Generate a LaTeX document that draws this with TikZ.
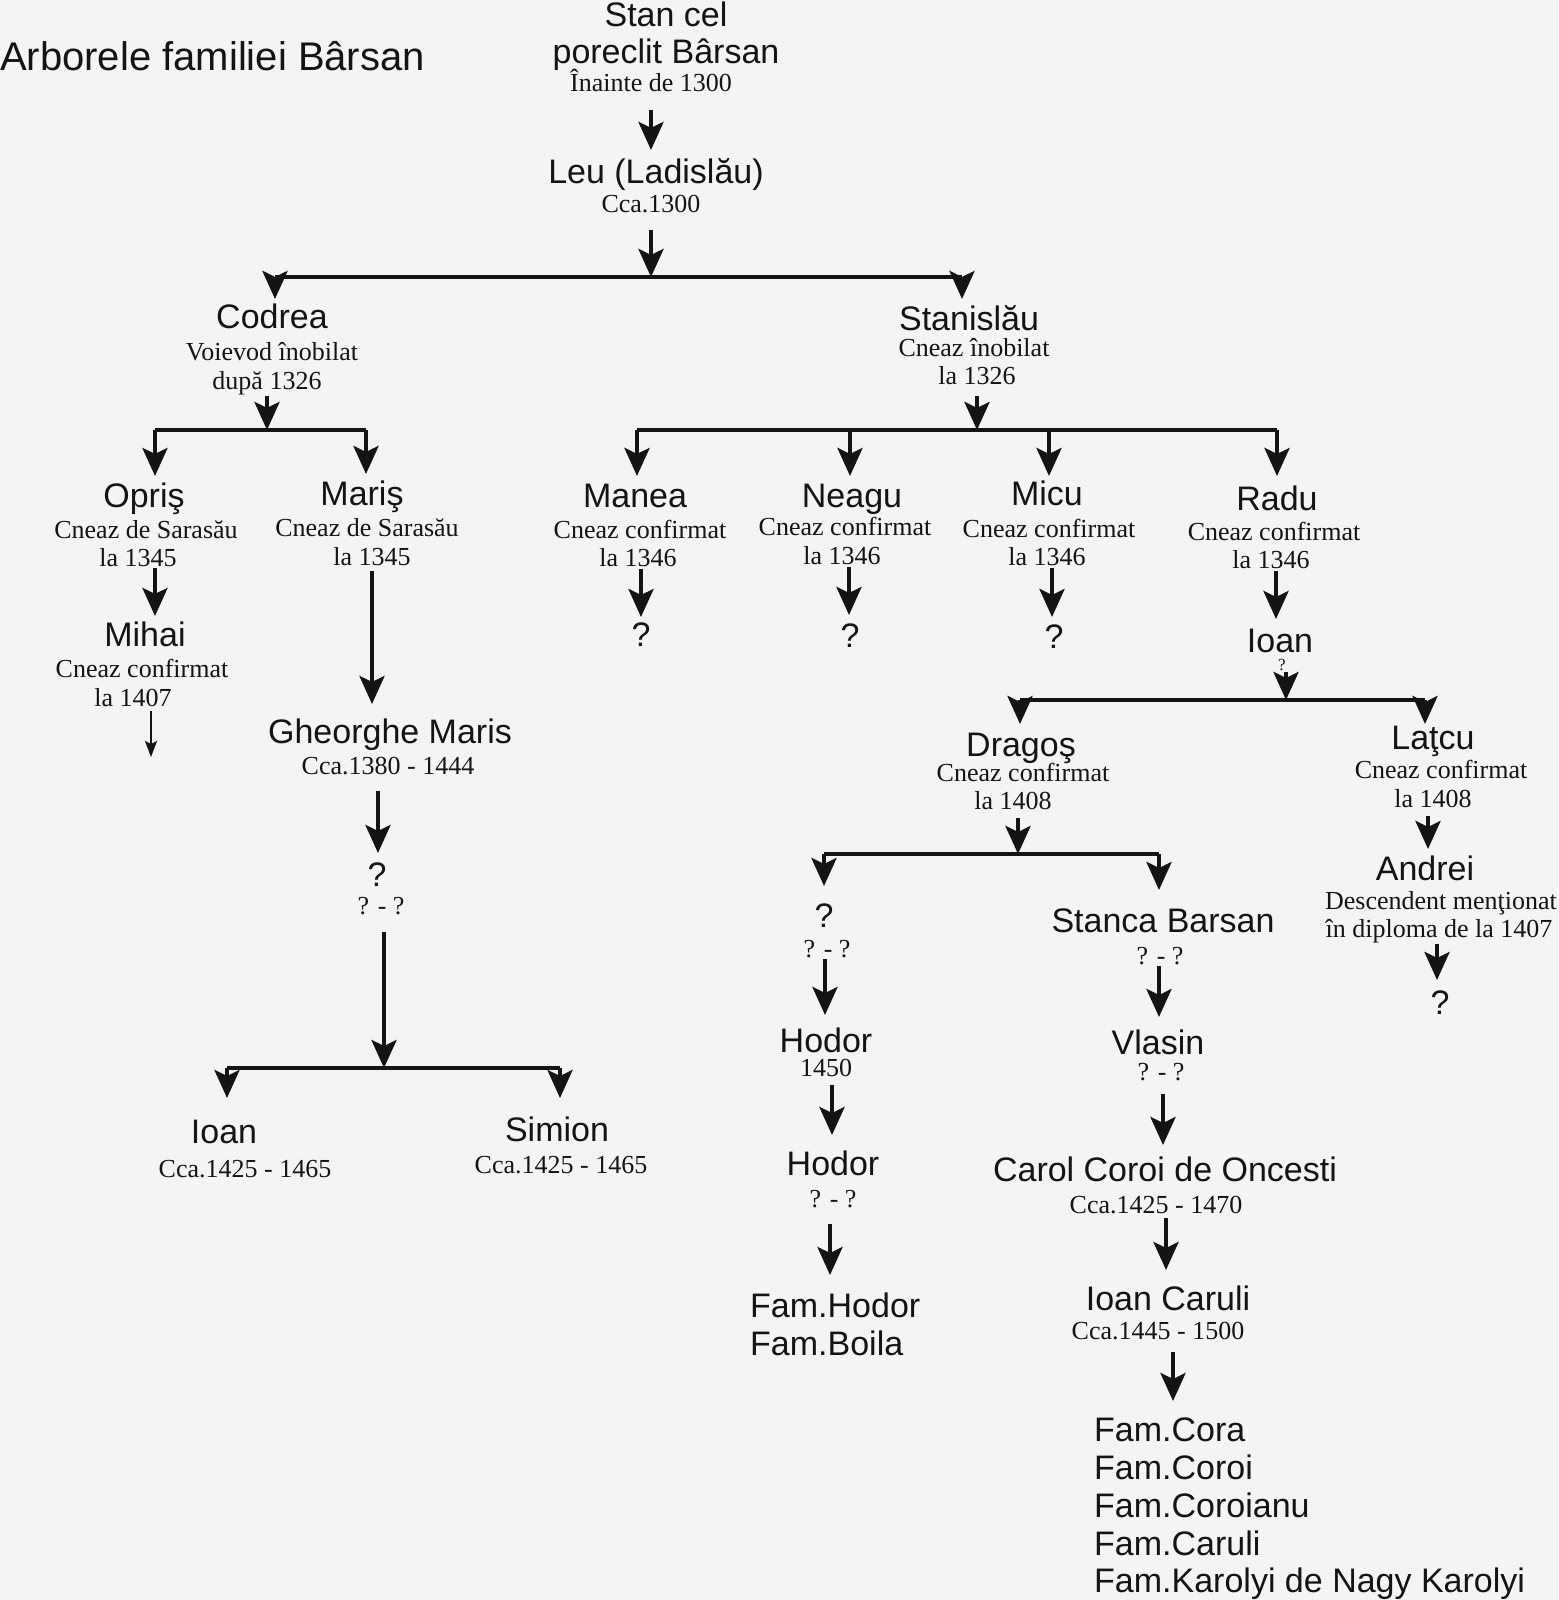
\documentclass[tikz,border=0pt]{standalone}
\usepackage{fontspec}
\setmainfont{Liberation Serif}
\newfontfamily\sansf{Liberation Sans}
\usetikzlibrary{arrows.meta}
\definecolor{bgc}{HTML}{F4F4F4}
\definecolor{ink}{HTML}{141414}
\begin{document}
\begin{tikzpicture}[x=1pt,y=-1pt,
 nm/.style={font=\sansf\fontsize{34}{40}\selectfont, inner sep=0pt, text height=24.3pt, text depth=0pt, text=ink},
 ttl/.style={font=\sansf\fontsize{40}{46}\selectfont, inner sep=0pt, text height=28.6pt, text depth=0pt, anchor=west, text=ink},
 inf/.style={font=\fontsize{26}{30}\selectfont, inner sep=0pt, text height=17.2pt, text depth=0pt, text=ink},
 fam/.style={nm, anchor=west},
 arr/.style={line width=4.5pt, draw=ink, -{Stealth[length=28pt,width=25pt,inset=6pt]}},
 bar/.style={line width=4.5pt, draw=ink},
 thinarr/.style={line width=1.8pt, draw=ink, -{Stealth[length=16pt,width=12pt,inset=3pt]}}]
\fill[bgc] (0,0) rectangle (1558,1600);
\useasboundingbox (0,0) rectangle (1558,1600);

% ---------- texts ----------
\node[ttl] (title) at (0,56) {Arborele familiei Bârsan};
\node[nm] (stanA) at (666,14) {Stan cel};
\node[nm] (stanB) at (666,51) {poreclit Bârsan};
\node[inf] (stanC) at (651,83) {Înainte de 1300};
\node[nm] (leuA) at (656,171) {Leu (Ladislău)};
\node[inf] (leuB) at (651,204) {Cca.1300};

\node[nm] (codA) at (272,316) {Codrea};
\node[inf] (codB) at (272,352) {Voievod înobilat};
\node[inf] (codC) at (267,381) {după 1326};

\node[nm] (staA) at (969,318) {Stanislău};
\node[inf] (staB) at (974,348) {Cneaz înobilat};
\node[inf] (staC) at (977,376) {la 1326};

\node[nm] (oprA) at (144,495) {Opriş};
\node[inf] (oprB) at (146,530) {Cneaz de Sarasău};
\node[inf] (oprC) at (138,558) {la 1345};

\node[nm] (marA) at (362,493) {Mariş};
\node[inf] (marB) at (367,528) {Cneaz de Sarasău};
\node[inf] (marC) at (372,557) {la 1345};

\node[nm] (mihA) at (145,634) {Mihai};
\node[inf] (mihB) at (142,669) {Cneaz confirmat};
\node[inf] (mihC) at (133,698) {la 1407};

\node[nm] (gheA) at (390,731) {Gheorghe Maris};
\node[inf] (gheB) at (388,766) {Cca.1380 - 1444};

\node[nm] (qgA) at (377,874) {?};
\node[inf] (qgB) at (381,906) {? - ?};

\node[nm] (ioaA) at (224,1131) {Ioan};
\node[inf] (ioaB) at (245,1169) {Cca.1425 - 1465};
\node[nm] (simA) at (557,1129) {Simion};
\node[inf] (simB) at (561,1165) {Cca.1425 - 1465};

\node[nm] (manA) at (635,495) {Manea};
\node[inf] (manB) at (640,530) {Cneaz confirmat};
\node[inf] (manC) at (638,558) {la 1346};
\node[nm] (manQ) at (641,634) {?};

\node[nm] (neaA) at (852,495) {Neagu};
\node[inf] (neaB) at (845,527) {Cneaz confirmat};
\node[inf] (neaC) at (842,556) {la 1346};
\node[nm] (neaQ) at (850,635) {?};

\node[nm] (micA) at (1047,493) {Micu};
\node[inf] (micB) at (1049,529) {Cneaz confirmat};
\node[inf] (micC) at (1047,557) {la 1346};
\node[nm] (micQ) at (1054,636) {?};

\node[nm] (radA) at (1277,498) {Radu};
\node[inf] (radB) at (1274,532) {Cneaz confirmat};
\node[inf] (radC) at (1271,560) {la 1346};

\node[nm] (irA) at (1280,640) {Ioan};
\node[inf, font=\fontsize{17}{19}\selectfont, text height=11pt] (irB) at (1282,665) {?};

\node[nm] (draA) at (1021,744) {Dragoş};
\node[inf] (draB) at (1023,773) {Cneaz confirmat};
\node[inf] (draC) at (1013,801) {la 1408};

\node[nm] (latA) at (1433,737) {Laţcu};
\node[inf] (latB) at (1441,770) {Cneaz confirmat};
\node[inf] (latC) at (1433,799) {la 1408};

\node[nm] (andA) at (1425,868) {Andrei};
\node[inf] (andB) at (1441,901) {Descendent menţionat};
\node[inf] (andC) at (1439,929) {în diploma de la 1407};
\node[nm] (andQ) at (1440,1002) {?};

\node[nm] (qdA) at (824,915) {?};
\node[inf] (qdB) at (827,949) {? - ?};
\node[nm] (hoA) at (826,1040) {Hodor};
\node[inf] (hoB) at (826,1068) {1450};
\node[nm] (hbA) at (833,1163) {Hodor};
\node[inf] (hbB) at (833,1199) {? - ?};
\node[fam] (famH) at (750,1305) {Fam.Hodor};
\node[fam] (famB) at (750,1343) {Fam.Boila};

\node[nm] (scA) at (1163,920) {Stanca Barsan};
\node[inf] (scB) at (1160,956) {? - ?};
\node[nm] (vlA) at (1158,1042) {Vlasin};
\node[inf] (vlB) at (1161,1072) {? - ?};
\node[nm] (ccA) at (1165,1169) {Carol Coroi de Oncesti};
\node[inf] (ccB) at (1156,1205) {Cca.1425 - 1470};
\node[nm] (icA) at (1168,1298) {Ioan Caruli};
\node[inf] (icB) at (1158,1331) {Cca.1445 - 1500};
\node[fam] (f1) at (1094,1429) {Fam.Cora};
\node[fam] (f2) at (1094,1467) {Fam.Coroi};
\node[fam] (f3) at (1094,1505) {Fam.Coroianu};
\node[fam] (f4) at (1094,1543) {Fam.Caruli};
\node[fam] (f5) at (1094,1580) {Fam.Karolyi de Nagy Karolyi};

% ---------- connector points ----------
\coordinate (s1) at (651,110);  \coordinate (e1) at (651,150);
\coordinate (s2) at (651,230);  \coordinate (j1) at (651,277);
\coordinate (b1l) at (275,277); \coordinate (b1r) at (962,277);
\coordinate (t1l) at (275,299); \coordinate (t1r) at (962,299);

\coordinate (s3) at (267,396);  \coordinate (j2) at (267,430);
\coordinate (b2l) at (155,430); \coordinate (b2r) at (366,430);
\coordinate (t2l) at (155,476); \coordinate (t2r) at (366,474);
\coordinate (s4) at (155,568);  \coordinate (e4) at (155,616);
\coordinate (s5) at (151,711);  \coordinate (e5) at (151,757);
\coordinate (s6) at (372,571);  \coordinate (e6) at (372,704);
\coordinate (s7) at (378,791);  \coordinate (e7) at (378,853);
\coordinate (s8) at (384,932);  \coordinate (j3) at (384,1068);
\coordinate (b3l) at (227,1068); \coordinate (b3r) at (560,1068);
\coordinate (t3l) at (227,1098); \coordinate (t3r) at (560,1098);

\coordinate (s9) at (977,396);  \coordinate (j4) at (977,430);
\coordinate (b4a) at (637,430); \coordinate (b4d) at (1277,430);
\coordinate (b4b) at (850,430); \coordinate (b4c) at (1049,430);
\coordinate (t4a) at (637,476); \coordinate (t4b) at (850,476);
\coordinate (t4c) at (1049,476); \coordinate (t4d) at (1277,476);
\coordinate (s10) at (641,569); \coordinate (e10) at (641,617);
\coordinate (s11) at (849,567); \coordinate (e11) at (849,615);
\coordinate (s12) at (1052,568); \coordinate (e12) at (1052,617);
\coordinate (s13) at (1276,571); \coordinate (e13) at (1276,619);
\coordinate (s14) at (1286,672); \coordinate (j5) at (1286,700);
\coordinate (b5l) at (1020,700); \coordinate (b5r) at (1425,700);
\coordinate (t5l) at (1020,724); \coordinate (t5r) at (1425,724);
\coordinate (s15) at (1018,818); \coordinate (j6) at (1018,854);
\coordinate (b6l) at (824,854); \coordinate (b6r) at (1159,854);
\coordinate (t6l) at (824,886); \coordinate (t6r) at (1159,890);
\coordinate (s16) at (1428,816); \coordinate (e16) at (1428,849);
\coordinate (s17) at (1437,944); \coordinate (e17) at (1437,980);
\coordinate (s18) at (825,959); \coordinate (e18) at (825,1015);
\coordinate (s19) at (832,1085); \coordinate (e19) at (832,1135);
\coordinate (s20) at (830,1224); \coordinate (e20) at (830,1275);
\coordinate (s21) at (1159,966); \coordinate (e21) at (1159,1017);
\coordinate (s22) at (1163,1094); \coordinate (e22) at (1163,1145);
\coordinate (s23) at (1166,1218); \coordinate (e23) at (1166,1270);
\coordinate (s24) at (1173,1352); \coordinate (e24) at (1173,1401);

% ---------- connectors ----------
\draw[arr] (s1) -- (e1);
\draw[arr] (s2) -- (j1);
\draw[bar] (b1l) -- (b1r);
\draw[arr] (b1l) -- (t1l);
\draw[arr] (b1r) -- (t1r);

\draw[arr] (s3) -- (j2);
\draw[bar] (b2l) -- (b2r);
\draw[arr] (b2l) -- (t2l);
\draw[arr] (b2r) -- (t2r);
\draw[arr] (s4) -- (e4);
\draw[thinarr] (s5) -- (e5);
\draw[arr] (s6) -- (e6);
\draw[arr] (s7) -- (e7);
\draw[arr] (s8) -- (j3);
\draw[bar] (b3l) -- (b3r);
\draw[arr] (b3l) -- (t3l);
\draw[arr] (b3r) -- (t3r);

\draw[arr] (s9) -- (j4);
\draw[bar] (b4a) -- (b4d);
\draw[arr] (b4a) -- (t4a);
\draw[arr] (b4b) -- (t4b);
\draw[arr] (b4c) -- (t4c);
\draw[arr] (b4d) -- (t4d);
\draw[arr] (s10) -- (e10);
\draw[arr] (s11) -- (e11);
\draw[arr] (s12) -- (e12);
\draw[arr] (s13) -- (e13);
\draw[arr] (s14) -- (j5);
\draw[bar] (b5l) -- (b5r);
\draw[arr] (b5l) -- (t5l);
\draw[arr] (b5r) -- (t5r);
\draw[arr] (s15) -- (j6);
\draw[bar] (b6l) -- (b6r);
\draw[arr] (b6l) -- (t6l);
\draw[arr] (b6r) -- (t6r);
\draw[arr] (s16) -- (e16);
\draw[arr] (s17) -- (e17);
\draw[arr] (s18) -- (e18);
\draw[arr] (s19) -- (e19);
\draw[arr] (s20) -- (e20);
\draw[arr] (s21) -- (e21);
\draw[arr] (s22) -- (e22);
\draw[arr] (s23) -- (e23);
\draw[arr] (s24) -- (e24);
\end{tikzpicture}
\end{document}
